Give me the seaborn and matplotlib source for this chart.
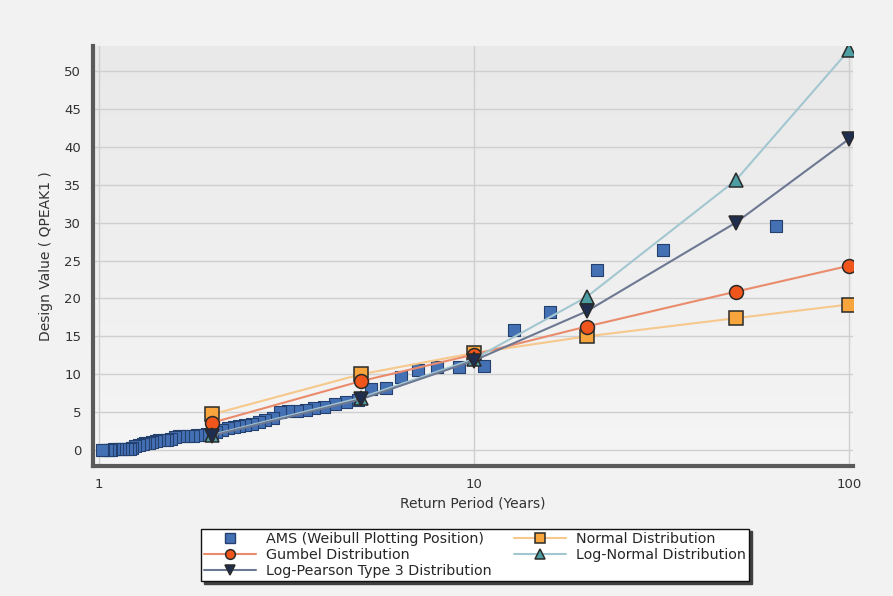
import numpy as np
import pandas as pd
import matplotlib
matplotlib.use("Agg")
import matplotlib.pyplot as plt
from matplotlib.ticker import FixedLocator, MultipleLocator, NullFormatter
import seaborn as sns

# Annual maximum series ranked by Weibull plotting position (return period, years)
ams_period = [64.0, 32.0, 21.33, 16.0, 12.8, 10.67, 9.14, 8.0, 7.11, 6.4,
              5.82, 5.33, 4.92, 4.57, 4.27, 4.0, 3.76, 3.56, 3.37, 3.2,
              3.05, 2.91, 2.78, 2.67, 2.56, 2.46, 2.37, 2.29, 2.21, 2.13,
              2.06, 2.0, 1.94, 1.88, 1.83, 1.78, 1.73, 1.68, 1.64, 1.6,
              1.56, 1.52, 1.49, 1.45, 1.42, 1.39, 1.36, 1.33, 1.31, 1.28,
              1.25, 1.23, 1.21, 1.19, 1.16, 1.14, 1.12, 1.10, 1.08, 1.07,
              1.05, 1.03, 1.02]
ams_value = [29.5, 26.4, 23.8, 18.2, 15.9, 11.1, 10.9, 10.9, 10.6, 9.6,
             8.2, 8.0, 6.6, 6.3, 6.1, 5.7, 5.5, 5.3, 5.2, 5.1,
             5.0, 4.2, 4.0, 3.7, 3.5, 3.3, 3.2, 3.0, 2.9, 2.6,
             2.4, 2.2, 2.1, 2.0, 2.0, 1.9, 1.9, 1.8, 1.8, 1.7,
             1.5, 1.4, 1.4, 1.3, 1.2, 1.1, 1.0, 0.9, 0.8, 0.7,
             0.5, 0.3, 0.2, 0.2, 0.1, 0.1, 0.1, 0.1, 0.0, 0.0,
             0.0, 0.0, 0.0]

# Fitted distributions at standard return periods
return_periods = [2, 5, 10, 20, 50, 100]
normal_dist = [4.7, 10.0, 12.8, 15.0, 17.4, 19.2]
gumbel_dist = [3.6, 9.1, 12.6, 16.3, 20.9, 24.3]
lognormal_dist = [2.0, 6.9, 12.0, 20.2, 35.6, 52.7]
lp3_dist = [1.9, 6.7, 11.8, 18.3, 30.0, 41.0]

x_ticks = [1, 10, 100]
x_minor = [3.25, 5.5, 7.8, 32.5, 55, 78]

sns.set_style("white")
plt.rcParams["font.family"] = ["DejaVu Sans"]

fig = plt.figure(figsize=(8.93, 5.96), dpi=100, facecolor="#f2f2f2")
ax = fig.add_axes([0.104, 0.218, 0.851, 0.705])
ax.set_facecolor("none")

# soft vertical gradient behind the plot area
grad = np.linspace(0, 1, 256).reshape(-1, 1)
ax.imshow(grad, extent=[0, 1, 0, 1], transform=ax.transAxes, aspect="auto",
          cmap=matplotlib.colors.LinearSegmentedColormap.from_list(
              "bg", ["#f5f5f5", "#e9e9e9"]),
          zorder=0, origin="lower")

ams_df = pd.DataFrame({"period": ams_period, "value": ams_value})
dist_df = pd.DataFrame({"period": return_periods,
                        "Normal": normal_dist, "Gumbel": gumbel_dist,
                        "LogNormal": lognormal_dist, "LP3": lp3_dist})

series = [
    ("Normal", "Normal Distribution", "#f6c88c", "#f7a53c", "s", 9.5),
    ("Gumbel", "Gumbel Distribution", "#ea8b6c", "#f0561b", "o", 10),
    ("LogNormal", "Log-Normal Distribution", "#a3c7d0", "#4d9ea3", "^", 10.5),
    ("LP3", "Log-Pearson Type 3 Distribution", "#6d7892", "#1f2d4f", "v", 10.5),
]

handles = {}
for col, label, lcol, mcol, mk, ms in series:
    sns.lineplot(data=dist_df, x="period", y=col, ax=ax, color=lcol, lw=1.5,
                 marker=mk, markersize=ms, markerfacecolor=mcol,
                 markeredgecolor="#2a2a2a", markeredgewidth=1.1,
                 label=label, zorder=4, legend=False)
    handles[col] = ax.lines[-1]

sns.scatterplot(data=ams_df, x="period", y="value", ax=ax, marker="s",
                s=70, color="#4470b4", edgecolor="#24406e", linewidth=0.8,
                zorder=3, label="AMS (Weibull Plotting Position)", legend=False)
ams_handle = matplotlib.lines.Line2D([], [], ls="none", marker="s",
                                     markersize=7, markerfacecolor="#4470b4",
                                     markeredgecolor="#24406e")

ax.set_xscale("log")
ax.set_xlim(0.965, 102.5)
ax.set_ylim(-2.1, 53.3)

ax.xaxis.set_major_locator(FixedLocator(x_ticks))
ax.set_xticklabels([str(t) for t in x_ticks])
ax.xaxis.set_minor_locator(FixedLocator(x_minor))
ax.xaxis.set_minor_formatter(NullFormatter())
ax.yaxis.set_major_locator(MultipleLocator(5))
ax.yaxis.set_minor_locator(MultipleLocator(1))

ax.grid(True, which="major", axis="both", color="#cfcfcf", lw=1.0, zorder=1)
ax.set_axisbelow(True)

for side in ["top", "right"]:
    ax.spines[side].set_visible(False)
for side in ["left", "bottom"]:
    ax.spines[side].set_color("#5a5a5a")
    ax.spines[side].set_linewidth(3)

ax.tick_params(axis="both", which="major", length=5, width=1, color="#8a8a8a",
               labelsize=9.5, labelcolor="#333333", direction="out")
ax.tick_params(axis="both", which="minor", length=3, width=0.8, color="#9a9a9a",
               direction="out")

ax.set_xlabel("Return Period (Years)", fontsize=10, color="#333333", labelpad=4)
ax.set_ylabel("Design Value ( QPEAK1 )", fontsize=10, color="#333333", labelpad=8)

order = [ams_handle, handles["Gumbel"], handles["LP3"],
         handles["Normal"], handles["LogNormal"]]
labels = ["AMS (Weibull Plotting Position)", "Gumbel Distribution",
          "Log-Pearson Type 3 Distribution", "Normal Distribution",
          "Log-Normal Distribution"]
leg = fig.legend(order, labels, ncol=2, loc="center",
                 bbox_to_anchor=(0.532, 0.069), fontsize=10.3, frameon=True,
                 fancybox=False, shadow={"color": "#404040", "alpha": 1.0},
                 edgecolor="#111111", facecolor="white", borderpad=0.25,
                 labelspacing=0.12, handlelength=3.6, handletextpad=0.7,
                 columnspacing=1.6)
leg.get_frame().set_linewidth(1.0)
for h in leg.legend_handles:
    if hasattr(h, "set_markersize"):
        h.set_markersize(7)

fig.savefig("out.png", dpi=100, facecolor=fig.get_facecolor())
